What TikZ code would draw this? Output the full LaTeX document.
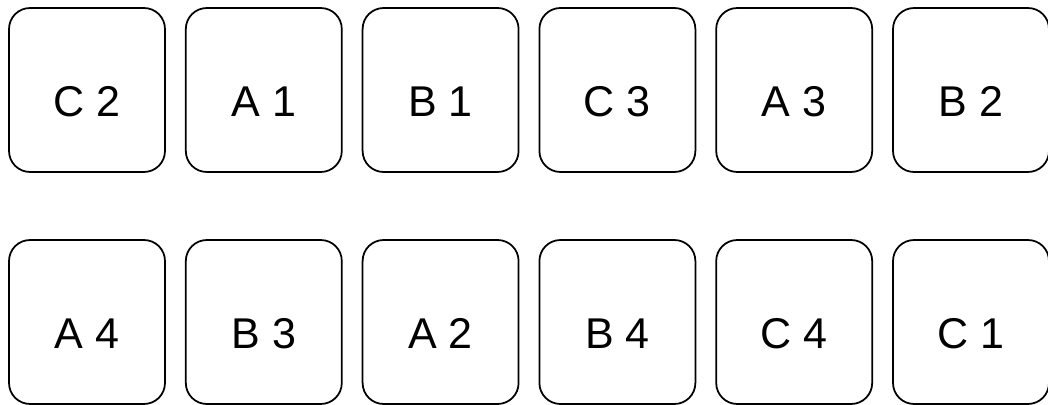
\documentclass[tikz,border=0pt]{standalone}
\usepackage{fontspec}
\setmainfont{Liberation Sans}
\usetikzlibrary{positioning}

\begin{document}
\begin{tikzpicture}[x=0.02cm,y=-0.02cm,font=\fontsize{24.5}{29}\selectfont]
\tikzstyle{cell}=[draw,line width=1pt,rounded corners=0.42cm,minimum width=3.12cm,minimum height=3.28cm,text height=1.06cm,text depth=0pt,inner sep=0pt]
\useasboundingbox (0,0) rectangle (1048,405);
% top row
\foreach \nm [count=\i from 0] in {C 2, A 1, B 1, C 3, A 3, B 2} {
  \pgfmathsetmacro\xx{87+\i*176.8}
  \node[cell] (t\i) at (\xx,90) {\nm};
}
% bottom row
\foreach \nm [count=\i from 0] in {A 4, B 3, A 2, B 4, C 4, C 1} {
  \pgfmathsetmacro\xx{87+\i*176.8}
  \node[cell] (b\i) at (\xx,322) {\nm};
}
\end{tikzpicture}
\end{document}
